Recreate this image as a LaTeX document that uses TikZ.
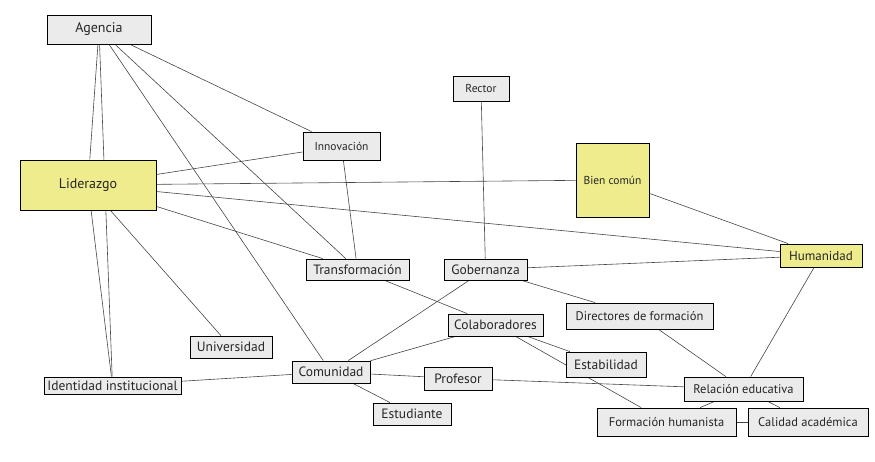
\documentclass[tikz,border=0pt]{standalone}
\usepackage{fontspec}
\setmainfont{PT Sans}
\usepackage{tikz}
\usetikzlibrary{backgrounds}
\definecolor{boxgray}{RGB}{235,235,235}
\definecolor{boxyellow}{RGB}{238,236,140}
\definecolor{linegray}{RGB}{70,70,70}
\tikzset{every picture/.style={line width=0.75pt}}
\tikzset{
  gbox/.style={draw=black, fill=boxgray, inner sep=0pt, line width=0.8pt, text=black!85},
  ybox/.style={gbox, fill=boxyellow},
  link/.style={draw=linegray, line width=0.6pt},
}
\begin{document}
\begin{tikzpicture}[x=1pt,y=1pt,yscale=-1]
\useasboundingbox (0,0) rectangle (875,462);

% Text Node
\node [gbox, minimum width=104pt, minimum height=29pt, font=\fontsize{14}{16}\selectfont] (agencia) at (99,29.5) {Agencia};
% Text Node
\node [gbox, minimum width=77pt, minimum height=28pt, font=\fontsize{11.5}{13}\selectfont] (innovacion) at (341.5,146) {Innovación};
% Text Node
\node [ybox, minimum width=136pt, minimum height=50pt, font=\fontsize{14}{16}\selectfont] (liderazgo) at (88,185) {Liderazgo};
% Text Node
\node [gbox, minimum width=56pt, minimum height=25pt, font=\fontsize{11.5}{13}\selectfont] (rector) at (481,88.5) {Rector};
% Text Node
\node [ybox, minimum width=73pt, minimum height=74pt, font=\fontsize{11.5}{13}\selectfont] (biencomun) at (612.5,180) {Bien común};
% Text Node
\node [ybox, minimum width=82pt, minimum height=23pt, font=\fontsize{13}{15}\selectfont] (humanidad) at (821,255.5) {Humanidad};
% Text Node
\node [gbox, minimum width=83pt, minimum height=21pt, font=\fontsize{13.5}{15}\selectfont] (gobernanza) at (485.5,269.5) {Gobernanza};
% Text Node
\node [gbox, minimum width=103pt, minimum height=21pt, font=\fontsize{13.5}{15}\selectfont] (transformacion) at (357.5,269.5) {Transformación};
% Text Node
\node [gbox, minimum width=82pt, minimum height=22pt, font=\fontsize{13.5}{15}\selectfont] (universidad) at (231,347) {Universidad};
% Text Node
\node [gbox, minimum width=137pt, minimum height=17pt, font=\fontsize{13.5}{15}\selectfont] (identidad) at (112.5,385.5) {Identidad institucional};
% Text Node
\node [gbox, minimum width=78pt, minimum height=22pt, font=\fontsize{13.5}{15}\selectfont] (comunidad) at (331,372) {Comunidad};
% Text Node
\node [gbox, minimum width=78pt, minimum height=22pt, font=\fontsize{13.5}{15}\selectfont] (estudiante) at (412,414) {Estudiante};
% Text Node
\node [gbox, minimum width=68pt, minimum height=23pt, font=\fontsize{13.5}{15}\selectfont] (profesor) at (458,378.5) {Profesor};
% Text Node
\node [gbox, minimum width=95pt, minimum height=22pt, font=\fontsize{13.5}{15}\selectfont] (colaboradores) at (495.5,325) {Colaboradores};
% Text Node
\node [gbox, minimum width=147pt, minimum height=26pt, font=\fontsize{12.5}{14}\selectfont] (directores) at (639.5,316) {Directores de formación};
% Text Node
\node [gbox, minimum width=80pt, minimum height=25pt, font=\fontsize{13.5}{15}\selectfont] (estabilidad) at (606,364.5) {Estabilidad};
% Text Node
\node [gbox, minimum width=119pt, minimum height=24pt, font=\fontsize{12.5}{14}\selectfont] (relacion) at (743.5,389) {Relación educativa};
% Text Node
\node [gbox, minimum width=139pt, minimum height=28pt, font=\fontsize{12.5}{14}\selectfont] (formacion) at (666.5,422) {Formación humanista};
% Text Node
\node [gbox, minimum width=120pt, minimum height=28pt, font=\fontsize{12.5}{14}\selectfont] (calidad) at (808,422) {Calidad académica};

\begin{pgfonlayer}{background}
%Straight Lines
\draw [link] (agencia) -- (liderazgo);
\draw [link] (agencia) -- (identidad);
\draw [link] (agencia) -- (innovacion);
\draw [link] (agencia) -- (transformacion);
\draw [link] (agencia) -- (comunidad);
%Straight Lines
\draw [link] (liderazgo) -- (identidad);
\draw [link] (liderazgo) -- (innovacion);
\draw [link] (liderazgo) -- (biencomun);
\draw [link] (liderazgo) -- (humanidad);
\draw [link] (liderazgo) -- (transformacion);
\draw [link] (liderazgo) -- (universidad);
%Straight Lines
\draw [link] (innovacion) -- (transformacion);
\draw [link] (rector) -- (gobernanza);
\draw [link] (biencomun) -- (humanidad);
\draw [link] (gobernanza) -- (humanidad);
\draw [link] (gobernanza) -- (directores);
\draw [link] (gobernanza) -- (comunidad);
\draw [link] (transformacion) -- (colaboradores);
%Straight Lines
\draw [link] (colaboradores) -- (comunidad);
\draw [link] (colaboradores) -- (estabilidad);
\draw [link] (colaboradores) -- (formacion);
\draw [link] (comunidad) -- (profesor);
\draw [link] (comunidad) -- (estudiante);
\draw [link] (comunidad) -- (identidad);
\draw [link] (profesor) -- (relacion);
\draw [link] (directores) -- (relacion);
\draw [link] (humanidad) -- (relacion);
\draw [link] (relacion) -- (formacion);
\draw [link] (relacion) -- (calidad);
\draw [link] (formacion) -- (calidad);
\end{pgfonlayer}
\end{tikzpicture}
\end{document}
